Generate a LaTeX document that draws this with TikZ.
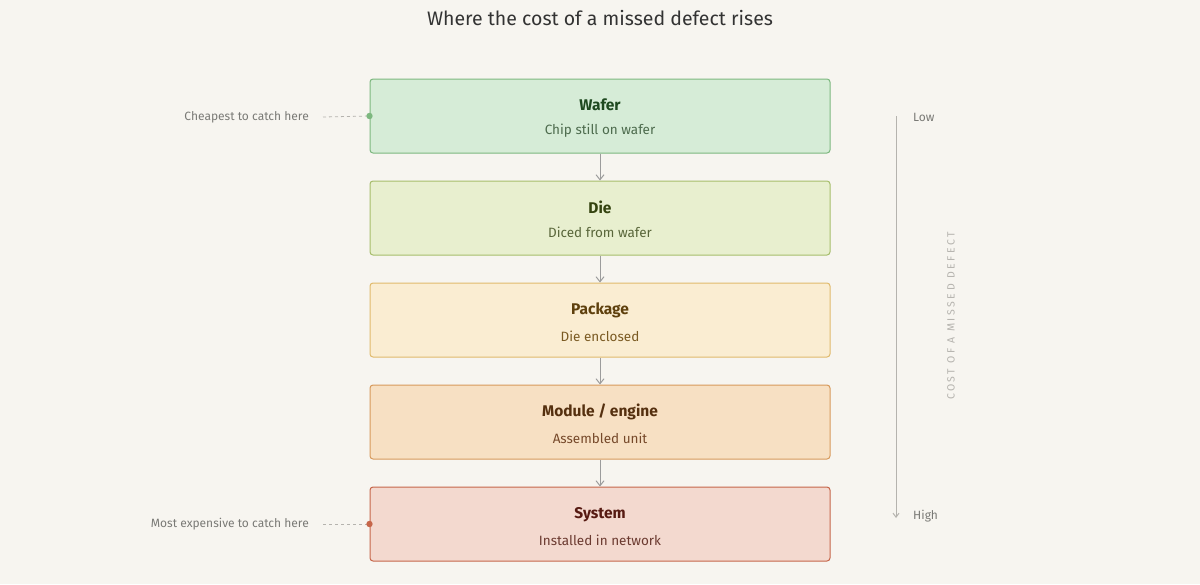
\documentclass[tikz,border=0pt]{standalone}
\usepackage{fontspec}
\setmainfont{Fira Sans}
\usetikzlibrary{arrows.meta, positioning}

\definecolor{paper}{HTML}{F7F5F0}
\definecolor{ink}{HTML}{333333}
\definecolor{muted}{HTML}{7A7A76}
\definecolor{faint}{HTML}{B5B3AE}
\definecolor{flowgray}{HTML}{9C9C9C}

% stage colours: fill, line, heading, subline
\definecolor{fill1}{HTML}{D6ECD7}\definecolor{line1}{HTML}{7DB87F}
\definecolor{head1}{HTML}{1F4A20}\definecolor{sub1}{HTML}{4D6B4D}
\definecolor{fill2}{HTML}{E8EFCF}\definecolor{line2}{HTML}{A6BD6B}
\definecolor{head2}{HTML}{34430F}\definecolor{sub2}{HTML}{59663A}
\definecolor{fill3}{HTML}{FAEDD2}\definecolor{line3}{HTML}{E0BA6C}
\definecolor{head3}{HTML}{5E400D}\definecolor{sub3}{HTML}{7A5A22}
\definecolor{fill4}{HTML}{F7E0C3}\definecolor{line4}{HTML}{D79A5C}
\definecolor{head4}{HTML}{55300F}\definecolor{sub4}{HTML}{76492A}
\definecolor{fill5}{HTML}{F3D9CF}\definecolor{line5}{HTML}{C6664A}
\definecolor{head5}{HTML}{561A12}\definecolor{sub5}{HTML}{6B3A30}

\begin{document}
\begin{tikzpicture}[
		x=1pt, y=-1pt,
		stage/.style ={
			rectangle,	rounded corners=3pt,	line width=1pt,
			minimum width=460pt,	minimum height=74pt,	inner sep=0pt,
			align=center
		},
		flow/.style ={
			draw=flowgray,	line width=1pt,
			-{Straight Barb[length=5pt, width=8pt]}
		},
		note/.style ={
			text=muted,	font=\fontsize{12}{15}\selectfont,	inner sep=0pt
		},
		leader/.style ={
			draw=faint,	dashed,	dash pattern=on 3pt off 3pt,	line width=0.8pt
		},
	]

	\newcommand{\colx}{600}
	\newcommand{\rowgap}{102}

	\useasboundingbox[fill=paper] (0,0) rectangle (1200,584);

	% title
	\node (title) at (600,18) [text=ink, font=\fontsize{19.5}{23}\selectfont] {Where the cost of a missed defect rises};

	% stages
	\foreach \i/\head/\sub in {1/Wafer/Chip still on wafer, 2/Die/Diced from wafer,
			3/Package/Die enclosed, 4/{Module / engine}/Assembled unit, 5/System/Installed in network}
		\node (stage\i) at (\colx, 116+\rowgap*\i-\rowgap) [stage, fill=fill\i, draw=line\i]
			{\rule{0pt}{16pt}{\color{head\i}\fontsize{15.5}{18}\selectfont\bfseries \head}\\[12pt]
			 {\color{sub\i}\fontsize{13.5}{16}\selectfont \sub}};

	% flow between stages
	\foreach \i [count=\j from 2] in {1,...,4}
		\draw [flow] (stage\i) -- (stage\j);

	% notes on the left
	\node (cheap) at (309,117) [note, anchor=east] {Cheapest to catch here};
	\node (dear)  at (309,524) [note, anchor=east] {Most expensive to catch here};
	\draw [leader] ([xshift=14pt]cheap.east) -- (stage1.west);
	\draw [leader] ([xshift=14pt]dear.east)  -- (stage5.west);
	\fill [line1] (stage1.west) circle (3.2pt);
	\fill [line5] (stage5.west) circle (3.2pt);

	% cost axis
	\coordinate (axtop) at (896,116);
	\coordinate (axbot) at (896,518);
	\draw [draw=faint, line width=1pt, -{Straight Barb[length=4pt, width=6pt]}] (axtop) -- (axbot);
	\node (low)  at (913,117) [note, anchor=west] {Low};
	\node (high) at (913,516) [note, anchor=west] {High};
	\node (axis) at (951,316) [rotate=90, text=faint,
		font=\fontsize{10.5}{12}\selectfont\addfontfeatures{LetterSpace=24}]
		{COST OF A MISSED DEFECT};

\end{tikzpicture}
\end{document}
